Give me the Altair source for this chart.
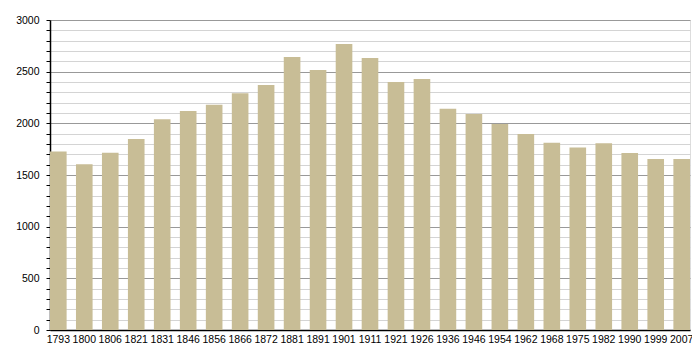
import altair as alt
import pandas as pd

years = ["1793", "1800", "1806", "1821", "1831", "1846", "1856", "1866", "1872", "1881",
         "1891", "1901", "1911", "1921", "1926", "1936", "1946", "1954", "1962", "1968",
         "1975", "1982", "1990", "1999", "2007"]
population = [1727, 1603, 1716, 1848, 2039, 2119, 2181, 2290, 2371, 2642,
              2516, 2768, 2632, 2400, 2429, 2142, 2090, 1994, 1897, 1813,
              1765, 1807, 1713, 1655, 1655]
y_ticks = list(range(0, 3001, 100))

df = pd.DataFrame({"year": years, "pop": population})

FONT = "Liberation Sans"

chart = alt.Chart(df).mark_bar(color="#c8bd96").encode(
    x=alt.X("year:N", sort=None, title=None,
            scale=alt.Scale(paddingInner=0.36, paddingOuter=0),
            axis=alt.Axis(labelAngle=0, ticks=False, domainColor="#000", domainWidth=1.5,
                          labelFont=FONT, labelFontSize=10.5, labelColor="#000",
                          labelPadding=4, grid=False)),
    y=alt.Y("pop:Q", title=None,
            scale=alt.Scale(domain=[0, 3000], nice=False),
            axis=alt.Axis(values=y_ticks,
                          labelExpr="datum.value % 500 === 0 ? datum.label : ''",
                          format="d",
                          labelFont=FONT, labelFontSize=10.5, labelColor="#000",
                          labelPadding=7,
                          domainColor="#000", domainWidth=1.5,
                          tickColor="#000", tickSize=4,
                          grid=True,
                          gridColor={"condition": {"test": "datum.value % 500 === 0", "value": "#999999"},
                                     "value": "#d4d4d4"},
                          gridWidth=1)),
).properties(
    width=640, height=310,
    autosize=alt.AutoSizeParams(type="none"),
    padding={"left": 42, "top": 12, "right": 2, "bottom": 22},
).configure_view(stroke=None).configure(background="white")

chart.save("out.html", embed_options={"renderer": "svg", "actions": False})
